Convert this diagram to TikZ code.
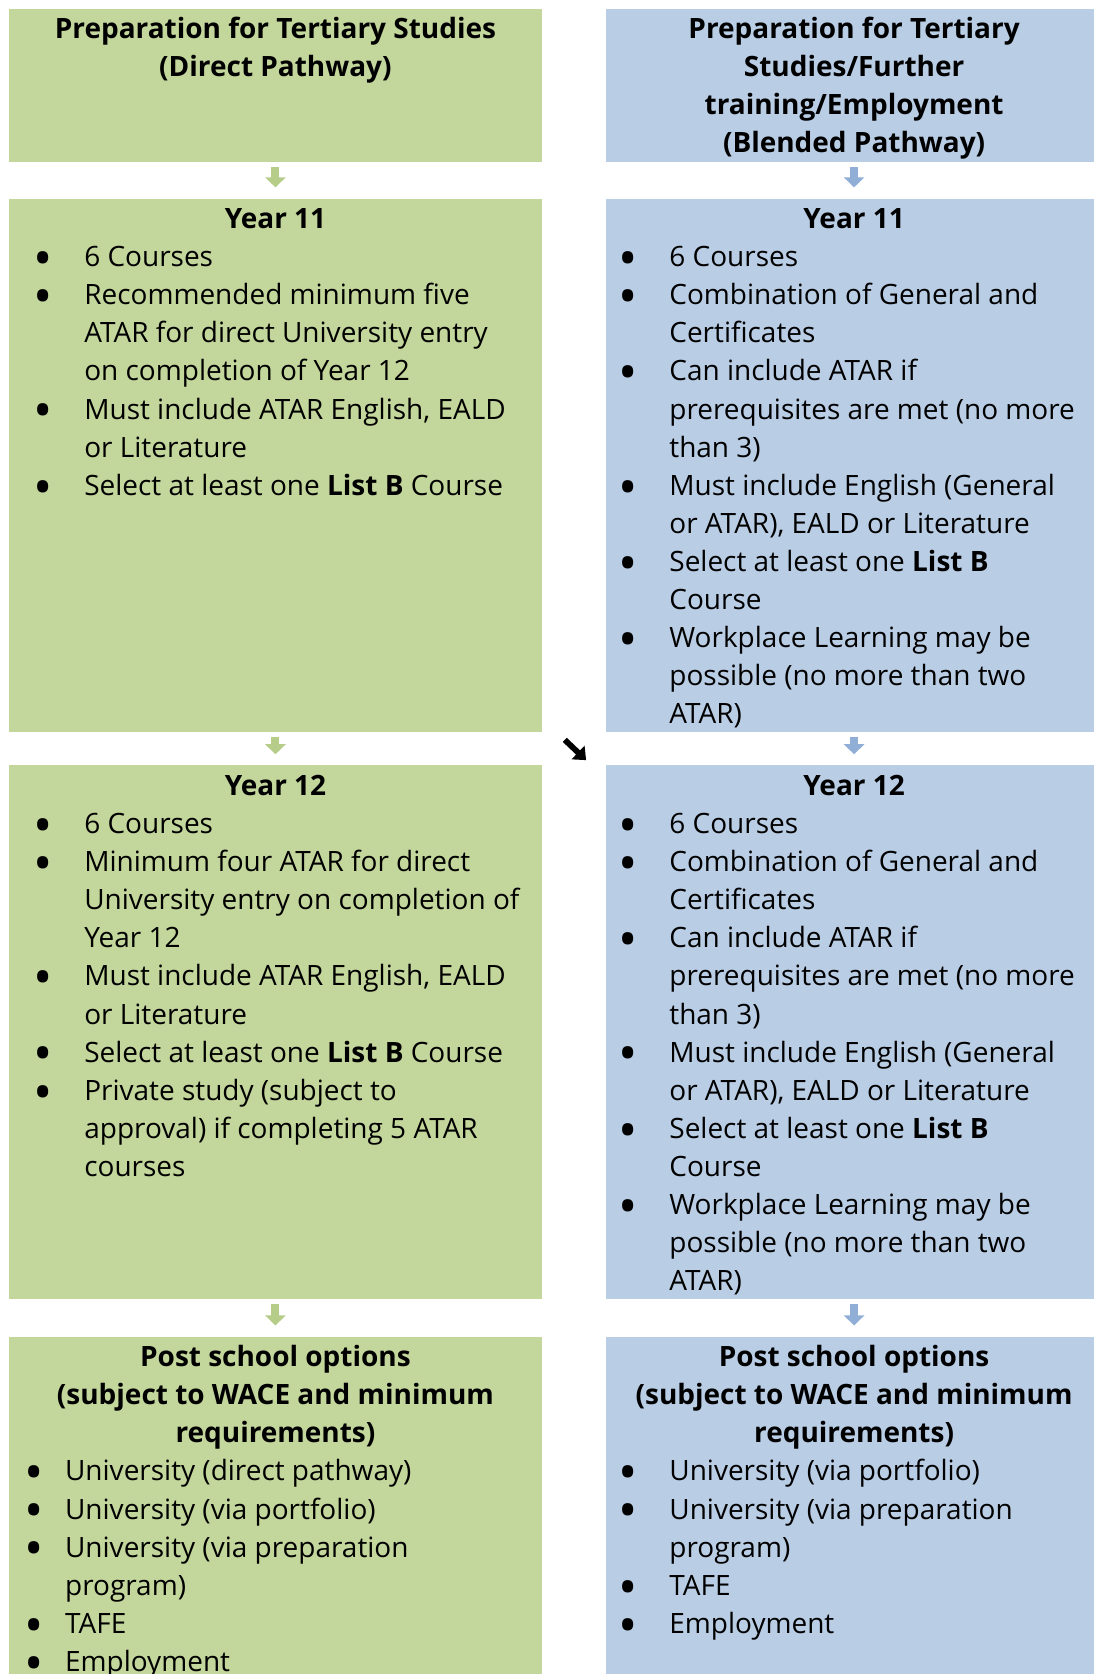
\documentclass[tikz,border=0pt]{standalone}
\usepackage{xcolor}
\usepackage{fontspec}
\setmainfont{Open Sans}
\usepackage{tikz}
\usetikzlibrary{arrows.meta}

\definecolor{pathgreen}{RGB}{195,214,155}
\definecolor{pathblue}{RGB}{185,205,229}
\definecolor{arrgreen}{RGB}{182,205,138}
\definecolor{arrblue}{RGB}{145,175,214}

\newlength{\bulx}
\newlength{\txtx}
\newcommand{\colset}[2]{\setlength{\bulx}{#1}\setlength{\txtx}{#2}}
\newcommand{\lstrut}{\rule[-3.85pt]{0pt}{17.85pt}}
\newcommand{\bigbul}{\smash{\raisebox{-4.6pt}{\fontsize{24}{0}\selectfont\textbullet}}}
\newcommand{\phd}[1]{\par\noindent\lstrut\makebox[\linewidth]{\bfseries #1}}
\newcommand{\pbl}[1]{\par\noindent\lstrut\makebox[\txtx][l]{\hspace{\bulx}\makebox[0pt]{\bigbul}}\mbox{#1}}
\newcommand{\pcl}[1]{\par\noindent\lstrut\hspace*{\txtx}\mbox{#1}}

\begin{document}
\begin{tikzpicture}[x=1pt, y=-1pt,
    pbox/.style={anchor=north west, inner sep=0pt, outer sep=0pt, font=\fontsize{13.1}{17.85}\selectfont},
    garrow/.style={draw=arrgreen, line width=3.75pt, -{Triangle[width=9.4pt,length=4.7pt]}, shorten <=2.25pt, shorten >=5.25pt},
    barrow/.style={draw=arrblue, line width=3.75pt, -{Triangle[width=9.4pt,length=4.7pt]}, shorten <=2.25pt, shorten >=5.25pt},
    karrow/.style={draw=black, line width=2.7pt, -{Triangle[width=8.5pt,length=5.2pt]}}]
    \fill[white] (0,0) rectangle (512,784);
    \useasboundingbox (0,0) rectangle (512,784);

    % direct pathway
    \node[pbox, fill=pathgreen] at (4, 4) (L0N1) {\parbox[t][72pt][t]{250pt}{\colset{16pt}{35.5pt}%
        \phd{Preparation for Tertiary Studies}
        \phd{(Direct Pathway)}}};
    \node[pbox, fill=pathgreen] at (4, 93) (L1N1) {\parbox[t][250pt][t]{250pt}{\colset{16pt}{35.5pt}%
        \phd{Year 11}
        \pbl{6 Courses}
        \pbl{Recommended minimum five}
        \pcl{ATAR for direct University entry}
        \pcl{on completion of Year 12}
        \pbl{Must include ATAR English, EALD}
        \pcl{or Literature}
        \pbl{Select at least one \textbf{List B} Course}}};
    \node[pbox, fill=pathgreen] at (4, 358.5) (L2N1) {\parbox[t][250pt][t]{250pt}{\colset{16pt}{35.5pt}%
        \phd{Year 12}
        \pbl{6 Courses}
        \pbl{Minimum four ATAR for direct}
        \pcl{University entry on completion of}
        \pcl{Year 12}
        \pbl{Must include ATAR English, EALD}
        \pcl{or Literature}
        \pbl{Select at least one \textbf{List B} Course}
        \pbl{Private study (subject to}
        \pcl{approval) if completing 5 ATAR}
        \pcl{courses}}};
    \node[pbox, fill=pathgreen] at (4, 626) (L3N1) {\parbox[t][158pt][t]{250pt}{\colset{12pt}{26.5pt}%
        \phd{Post school options}
        \phd{(subject to WACE and minimum}
        \phd{requirements)}
        \pbl{University (direct pathway)}
        \pbl{University (via portfolio)}
        \pbl{University (via preparation}
        \pcl{program)}
        \pbl{TAFE}
        \pbl{Employment}}};

    % blended pathway
    \node[pbox, fill=pathblue] at (284, 4) (L0N2) {\parbox[t][72pt][t]{232pt}{\colset{10pt}{29.5pt}%
        \phd{Preparation for Tertiary}
        \phd{Studies/Further}
        \phd{training/Employment}
        \phd{(Blended Pathway)}}};
    \node[pbox, fill=pathblue] at (284, 93) (L1N2) {\parbox[t][250pt][t]{232pt}{\colset{10pt}{29.5pt}%
        \phd{Year 11}
        \pbl{6 Courses}
        \pbl{Combination of General and}
        \pcl{Certificates}
        \pbl{Can include ATAR if}
        \pcl{prerequisites are met (no more}
        \pcl{than 3)}
        \pbl{Must include English (General}
        \pcl{or ATAR), EALD or Literature}
        \pbl{Select at least one \textbf{List B}}
        \pcl{Course}
        \pbl{Workplace Learning may be}
        \pcl{possible (no more than two}
        \pcl{ATAR)}}};
    \node[pbox, fill=pathblue] at (284, 358.5) (L2N2) {\parbox[t][250pt][t]{232pt}{\colset{10pt}{29.5pt}%
        \phd{Year 12}
        \pbl{6 Courses}
        \pbl{Combination of General and}
        \pcl{Certificates}
        \pbl{Can include ATAR if}
        \pcl{prerequisites are met (no more}
        \pcl{than 3)}
        \pbl{Must include English (General}
        \pcl{or ATAR), EALD or Literature}
        \pbl{Select at least one \textbf{List B}}
        \pcl{Course}
        \pbl{Workplace Learning may be}
        \pcl{possible (no more than two}
        \pcl{ATAR)}}};
    \node[pbox, fill=pathblue] at (284, 626) (L3N2) {\parbox[t][158pt][t]{232pt}{\colset{10pt}{29.5pt}%
        \phd{Post school options}
        \phd{(subject to WACE and minimum}
        \phd{requirements)}
        \pbl{University (via portfolio)}
        \pbl{University (via preparation}
        \pcl{program)}
        \pbl{TAFE}
        \pbl{Employment}}};

    \draw[garrow] (L0N1) -- (L1N1);
    \draw[garrow] (L1N1) -- (L2N1);
    \draw[garrow] (L2N1) -- (L3N1);
    \draw[barrow] (L0N2) -- (L1N2);
    \draw[barrow] (L1N2) -- (L2N2);
    \draw[barrow] (L2N2) -- (L3N2);

    % cross-over
    \coordinate (X1) at (264.5, 346.5);
    \coordinate (X2) at (274.5, 356);
    \draw[karrow] (X1) -- (X2);
\end{tikzpicture}
\end{document}
